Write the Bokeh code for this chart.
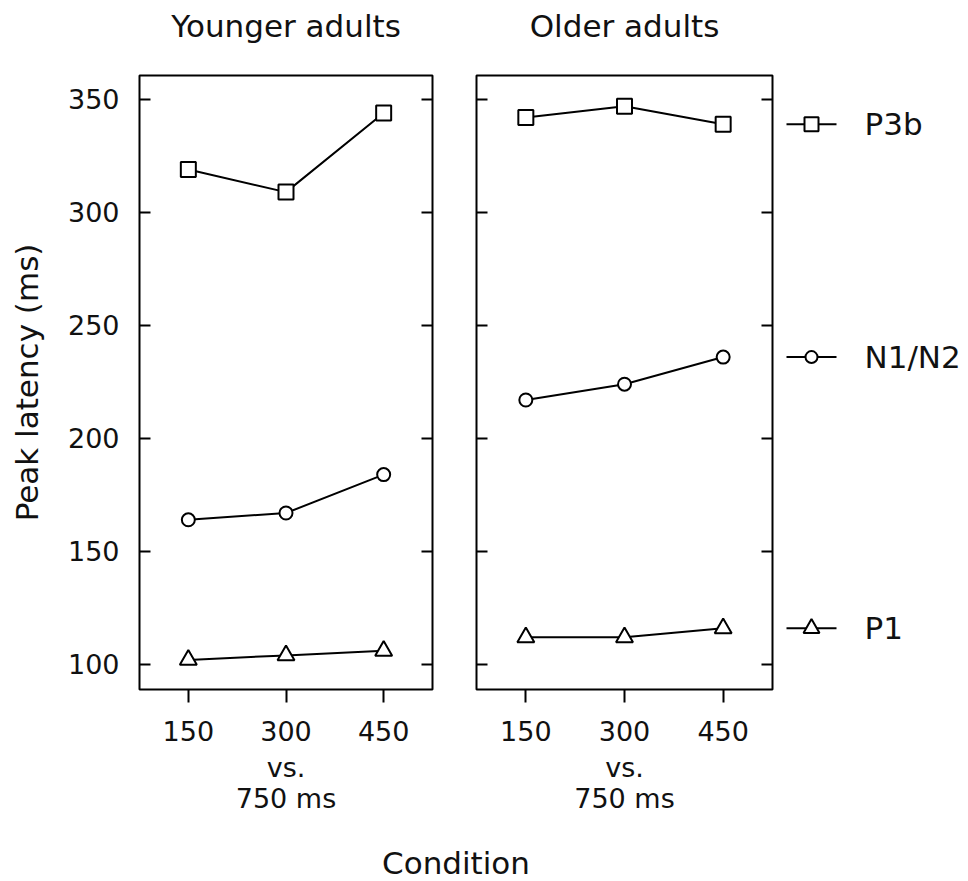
from bokeh.plotting import figure
from bokeh.layouts import row, column
from bokeh.models import Range1d, LinearAxis, FixedTicker
from bokeh.embed import file_html
from bokeh.resources import INLINE
from bokeh.core.properties import value

# ---------------- data ----------------
conditions = [150, 300, 450]
panel_titles = ["Younger adults", "Older adults"]
components = ["P3b", "N1/N2", "P1"]
markers = ["square", "circle", "triangle"]
marker_sizes = [15, 13, 17]

younger_p3b = [319, 309, 344]
younger_n1n2 = [164, 167, 184]
younger_p1 = [102, 104, 106]

older_p3b = [342, 347, 339]
older_n1n2 = [217, 224, 236]
older_p1 = [112, 112, 116]

y_ticks = [100, 150, 200, 250, 300, 350]
y_label = "Peak latency (ms)"
x_sub_label = "vs.\n750 ms"
x_label = "Condition"

FONT = "DejaVu Sans"
TXT = "#111111"
yr = Range1d(88.9, 360.6)
xr_lo, xr_hi = 75, 525

W = 968
HEAD_H = 50
FOOT_H = 51
ROW_H = 881 - HEAD_H - FOOT_H
FRAME_TOP = 75 - HEAD_H
FRAME_BOTTOM_BORDER = (881 - FOOT_H) - 689
A_W, A_L, A_R = 454, 139, 22
B_W, B_L, B_R = 324, 22, 6


def bare_fig(width, height, xr, yrange, top=0, bottom=0, left=0, right=0):
    f = figure(width=width, height=height, x_range=xr, y_range=yrange,
               output_backend="svg", toolbar_location=None,
               x_axis_location=None, y_axis_location=None,
               min_border_left=left, min_border_right=right,
               min_border_top=top, min_border_bottom=bottom)
    f.outline_line_color = None
    f.grid.grid_line_color = None
    return f


def add_y_axis(p, side, labels, with_title=False):
    ax = LinearAxis(ticker=FixedTicker(ticks=y_ticks))
    ax.axis_line_color = None
    ax.major_tick_in = 11
    ax.major_tick_out = 0
    ax.major_tick_line_width = 2
    ax.major_tick_line_color = "black"
    ax.minor_tick_line_color = None
    if labels:
        ax.major_label_text_font = FONT
        ax.major_label_text_font_size = "27px"
        ax.major_label_text_color = TXT
        ax.major_label_standoff = 20
    else:
        ax.major_label_overrides = {t: "" for t in y_ticks}
        ax.major_label_standoff = 0
    if with_title:
        ax.axis_label = y_label
        ax.axis_label_text_font = FONT
        ax.axis_label_text_font_size = "31px"
        ax.axis_label_text_font_style = "normal"
        ax.axis_label_text_color = TXT
        ax.axis_label_standoff = 20
    p.add_layout(ax, side)


def make_panel(series, width, mbl, mbr):
    p = bare_fig(width, ROW_H, Range1d(xr_lo, xr_hi), yr,
                 top=FRAME_TOP, bottom=FRAME_BOTTOM_BORDER, left=mbl, right=mbr)
    p.outline_line_color = "black"
    p.outline_line_width = 2

    xa = LinearAxis(ticker=FixedTicker(ticks=conditions))
    xa.axis_line_color = None
    xa.major_tick_in = 0
    xa.major_tick_out = 13
    xa.major_tick_line_width = 2
    xa.minor_tick_line_color = None
    xa.major_label_text_font = FONT
    xa.major_label_text_font_size = "27px"
    xa.major_label_text_color = TXT
    xa.major_label_standoff = 18
    xa.axis_label = x_sub_label
    xa.axis_label_text_font = FONT
    xa.axis_label_text_font_size = "27px"
    xa.axis_label_text_font_style = "normal"
    xa.axis_label_text_color = TXT
    xa.axis_label_text_line_height = 1.0
    xa.axis_label_standoff = 8
    p.add_layout(xa, "below")

    for vals, mk, sz in zip(series, markers, marker_sizes):
        p.line(conditions, vals, line_color="black", line_width=2)
        p.scatter(conditions, vals, marker=mk, size=sz, fill_color="white",
                  line_color="black", line_width=2)
    return p


# panel titles (strip texts) above each panel's frame
pH = bare_fig(W, HEAD_H, Range1d(0, W), Range1d(0, HEAD_H))
title_x = [(A_L + A_W - A_R) / 2, A_W + (B_L + B_W - B_R) / 2]
pH.text(title_x, [HEAD_H - 25] * 2, text=panel_titles, text_font=value(FONT),
        text_font_size="31px", text_baseline="middle", text_align="center", text_color=TXT)

pA = make_panel([younger_p3b, younger_n1n2, younger_p1], A_W, A_L, A_R)
add_y_axis(pA, "left", True, with_title=True)
add_y_axis(pA, "right", False)

pB = make_panel([older_p3b, older_n1n2, older_p1], B_W, B_L, B_R)
add_y_axis(pB, "left", False)
add_y_axis(pB, "right", False)

# direct-label legend at the older adults' last values
legend_w = W - A_W - B_W
pC = bare_fig(legend_w, ROW_H, Range1d(0, legend_w), yr,
              top=FRAME_TOP, bottom=FRAME_BOTTOM_BORDER)
ends = [older_p3b[-1], older_n1n2[-1], older_p1[-1]]
lx0, lx1, lm, lt = 8, 58, 33, 86
for yv, mk, sz, name in zip(ends, markers, marker_sizes, components):
    pC.segment(x0=[lx0], y0=[yv], x1=[lx1], y1=[yv], line_color="black", line_width=2)
    pC.scatter([lm], [yv], marker=mk, size=sz - 1, fill_color="white",
               line_color="black", line_width=2)
    pC.text([lt], [yv], text=[name], text_font=value(FONT), text_font_size="31px",
            text_baseline="middle", text_align="left", text_color=TXT)

# overall x label
pD = bare_fig(W, FOOT_H, Range1d(0, W), Range1d(0, FOOT_H))
pD.text([(A_L + A_W + B_W - B_R) / 2], [881 - 862], text=[x_label], text_font=value(FONT),
        text_font_size="31px", text_baseline="middle", text_align="center", text_color=TXT)

layout = column(pH, row(pA, pB, pC), pD)
open("out.html", "w").write(file_html(layout, INLINE))
